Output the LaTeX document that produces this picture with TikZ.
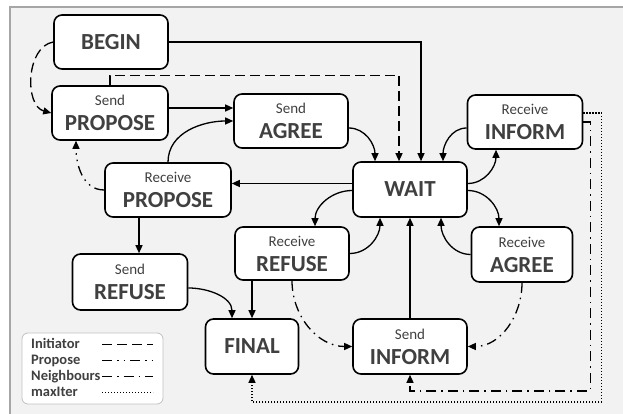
\documentclass[tikz,border=0pt]{standalone}
\usepackage{fontspec}
\setmainfont{Carlito}
\usetikzlibrary{arrows.meta,positioning,calc}
\definecolor{canvas}{RGB}{242,242,242}
\definecolor{frame}{RGB}{166,166,166}
\definecolor{ink}{RGB}{64,64,64}

\newcommand{\duo}[2]{{\mdseries\fontsize{15}{18}\selectfont #1}\\#2}

\begin{document}
\begin{tikzpicture}[x=1pt, y=1pt,
    block/.style={rectangle, draw, line width=1.6pt, rounded corners=8pt, fill=white, text=ink, align=center, font={\fontsize{23}{25}\selectfont\bfseries}, minimum width=114pt, minimum height=54pt, inner sep=0pt},
    flow/.style={line width=1.3pt, -{Triangle[length=8pt,width=7pt]}},
    initiator/.style={flow, dash pattern=on 10pt off 5pt},
    propose/.style={flow, dash pattern=on 10pt off 5pt on 1.5pt off 5pt on 1.5pt off 5pt},
    neighbours/.style={flow, dash pattern=on 10pt off 5pt on 1.5pt off 5pt},
    maxiter/.style={flow, dash pattern=on 1.3pt off 1.7pt},
    legendtext/.style={anchor=base west, text=ink, font={\fontsize{14.5}{16}\selectfont\bfseries}, inner sep=0pt}
]
    \useasboundingbox (0,0) rectangle (623,414);
    \fill[canvas] (10,0) rectangle (623,407);
    \draw[frame, line width=1.2pt] (623,407) -- (10,407) -- (10,0);

    % states
    \node[block] (begin) at (111,372) {BEGIN};
    \node[block, minimum width=116pt] (sendprop) at (110,301) {\duo{Send}{PROPOSE}};
    \node[block] (sendagree) at (291,293) {\duo{Send}{AGREE}};
    \node[block, minimum width=126pt] (recvprop) at (168,224) {\duo{Receive}{PROPOSE}};
    \node[block, minimum height=55pt] (wait) at (410,224.5) {WAIT};
    \node[block, minimum width=115pt] (recvinform) at (525,292) {\duo{Receive}{INFORM}};
    \node[block, minimum height=53pt] (recvrefuse) at (292,160.5) {\duo{Receive}{REFUSE}};
    \node[block, minimum width=101pt, minimum height=55pt] (recvagree) at (522,159.5) {\duo{Receive}{AGREE}};
    \node[block, minimum width=115pt, minimum height=56pt] (sendrefuse) at (130,132) {\duo{Send}{REFUSE}};
    \node[block, minimum width=93pt, minimum height=55pt] (final) at (252,67.5) {FINAL};
    \node[block, minimum height=55pt] (sendinform) at (410,67.5) {\duo{Send}{INFORM}};

    % solid transitions
    \draw[flow] (begin.east) -| ([xshift=11pt]wait.north);
    \draw[flow] ([yshift=5pt]sendprop.east) -- ([yshift=13pt]sendagree.west);
    \draw[flow] (recvprop.north) to[out=90, in=180] (sendagree.west);
    \draw[flow] ([yshift=-7pt]sendagree.east) to[out=0, in=90] ([xshift=-35pt]wait.north);
    \draw[flow] ([yshift=-6pt]recvinform.west) to[out=180, in=90] ([xshift=33pt]wait.north);
    \draw[flow] ([yshift=6pt]wait.west) -- ([yshift=6.5pt]recvprop.east);
    \draw[flow] ([yshift=6pt]wait.east) to[out=0, in=270] ([xshift=-29pt]recvinform.south);
    \draw[flow] ([yshift=-1pt]wait.west) to[out=180, in=90] ([xshift=23pt]recvrefuse.north);
    \draw[flow] (recvrefuse.east) to[out=0, in=270] ([xshift=-30pt]wait.south);
    \draw[flow] ([yshift=-1pt]wait.east) to[out=0, in=90] ([xshift=-23pt]recvagree.north);
    \draw[flow] (recvagree.west) to[out=180, in=270] ([xshift=31pt]wait.south);
    \draw[flow] (sendinform.north) -- (wait.south);
    \draw[flow] ([xshift=-29pt]recvprop.south) -- ([xshift=9pt]sendrefuse.north);
    \draw[flow] ([yshift=-6pt]sendrefuse.east) to[out=0, in=90] ([xshift=-20pt]final.north);
    \draw[flow] ([xshift=-40pt]recvrefuse.south) -- (final.north);

    % initiator
    \draw[initiator] (begin.west) to[out=190, in=165] (sendprop.west);
    \draw[initiator] (sendprop.north) -- ++(0,10) -| ([xshift=-11pt]wait.north);

    % propose
    \draw[propose] (recvprop.west) to[out=180, in=270] ([xshift=-34pt]sendprop.south);

    % neighbours
    \draw[neighbours] (recvrefuse.south) to[out=270, in=180] (sendinform.west);
    \draw[neighbours] (recvagree.south) to[out=270, in=0] (sendinform.east);
    \draw[neighbours] (recvinform.east) -- ++(7,0) -- ++(0,-269) -| (sendinform.south);

    % maxIter
    \draw[maxiter] ([yshift=9pt]recvinform.east) -- ++(18,0) -- ++(0,-289) -| (final.south);

    % legend
    \draw[draw=frame!70, fill=white, rounded corners=6pt, line width=0.8pt] (22,10) rectangle (163,81);
    \node[legendtext] (linit) at (31,65) {Initiator};
    \node[legendtext] (lprop) at (31,49) {Propose};
    \node[legendtext] (lneigh) at (31,33) {Neighbours};
    \node[legendtext] (lmax) at (31,17) {maxIter};
    \draw[initiator, -] (102,69.5) -- (153,69.5);
    \draw[propose, -] (102,53.5) -- (153,53.5);
    \draw[neighbours, -] (102,37.5) -- (153,37.5);
    \draw[maxiter, -] (102,21.5) -- (153,21.5);
\end{tikzpicture}
\end{document}
